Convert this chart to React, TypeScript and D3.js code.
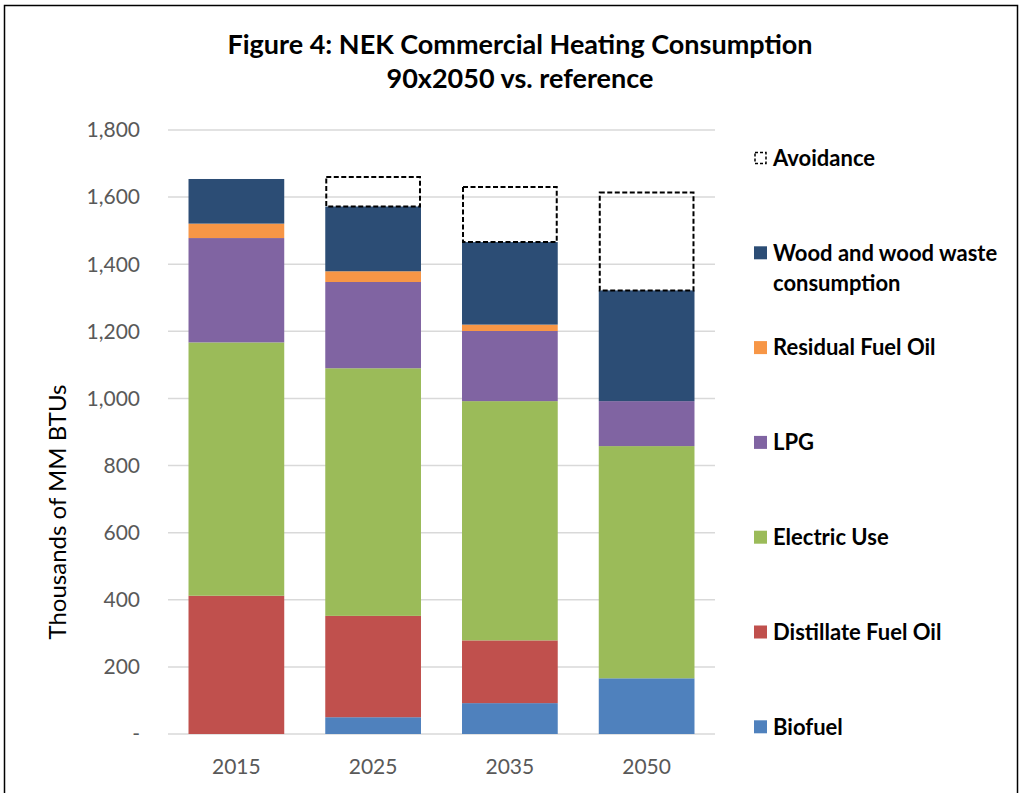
import React, { useEffect, useRef } from "react";
import * as d3 from "d3";

// chart values (thousands of MM BTUs)
const years = ["2015", "2025", "2035", "2050"];
const biofuel = [0, 50, 92, 166];
const distillate = [412, 302, 187, 0];
const electric = [755, 738, 713, 692];
const lpg = [311, 257, 209, 134];
const residual = [43, 32, 19, 0];
const wood = [133, 193, 246, 330];
const avoidance = [0, 88, 164, 292];

const seriesNames = [
  "Biofuel",
  "Distillate Fuel Oil",
  "Electric Use",
  "LPG",
  "Residual Fuel Oil",
  "Wood and wood waste consumption",
];
const seriesColors = ["#4F81BD", "#C0504D", "#9BBB59", "#8064A2", "#F79646", "#2C4D75"];
const yTicks = [0, 200, 400, 600, 800, 1000, 1200, 1400, 1600, 1800];

const titleLines = ["Figure 4: NEK Commercial Heating Consumption", "90x2050 vs. reference"];

export default function App() {
  const ref = useRef<SVGSVGElement | null>(null);

  useEffect(() => {
    const svg = d3.select(ref.current);
    svg.selectAll("*").remove();

    const font = "Lato, 'Open Sans', sans-serif";
    const margin = { top: 130, left: 168, right: 307, bottom: 59 };
    const W = 1022;
    const H = 793;

    // frame
    svg
      .append("rect")
      .attr("x", 4.5)
      .attr("y", 5.5)
      .attr("width", 1013)
      .attr("height", 800)
      .attr("fill", "#fff")
      .attr("stroke", "#000")
      .attr("stroke-width", 1.5);

    // title
    svg
      .selectAll("text.title")
      .data(titleLines)
      .enter()
      .append("text")
      .attr("class", "title")
      .attr("x", 520)
      .attr("y", (d, i) => 54 + i * 34)
      .attr("text-anchor", "middle")
      .style("font-family", font)
      .style("font-weight", "bold")
      .style("font-size", "27px")
      .style("fill", "#000")
      .text((d) => d);

    const x = d3
      .scaleBand()
      .domain(years)
      .range([margin.left, W - margin.right])
      .paddingInner(0.3)
      .paddingOuter(0.15);
    const y = d3.scaleLinear().domain([0, 1800]).range([H - margin.bottom, margin.top]);

    // gridlines
    svg
      .append("g")
      .selectAll("line")
      .data(yTicks)
      .enter()
      .append("line")
      .attr("x1", margin.left)
      .attr("x2", W - margin.right)
      .attr("y1", (d) => y(d))
      .attr("y2", (d) => y(d))
      .attr("stroke", "#D9D9D9")
      .attr("stroke-width", 1.5);

    // y tick labels
    const fmt = d3.format(",");
    svg
      .append("g")
      .selectAll("text")
      .data(yTicks)
      .enter()
      .append("text")
      .attr("x", 140)
      .attr("y", (d) => y(d))
      .attr("dy", "0.35em")
      .attr("text-anchor", "end")
      .style("font-family", font)
      .style("font-size", "21px")
      .style("fill", "#595959")
      .text((d) => (d === 0 ? "-" : fmt(d)));

    // x tick labels
    svg
      .append("g")
      .selectAll("text")
      .data(years)
      .enter()
      .append("text")
      .attr("x", (d) => x(d)! + x.bandwidth() / 2)
      .attr("y", 774)
      .attr("text-anchor", "middle")
      .style("font-family", font)
      .style("font-size", "21px")
      .style("fill", "#595959")
      .text((d) => d);

    // axis title
    svg
      .append("text")
      .attr("transform", "translate(66,512) rotate(-90)")
      .attr("text-anchor", "middle")
      .style("font-family", font)
      .style("font-size", "24px")
      .style("fill", "#000")
      .text("Thousands of MM BTUs");

    // stacked bars
    const table = years.map((yr, i) => ({
      year: yr,
      s0: biofuel[i],
      s1: distillate[i],
      s2: electric[i],
      s3: lpg[i],
      s4: residual[i],
      s5: wood[i],
    }));
    const keys = ["s0", "s1", "s2", "s3", "s4", "s5"];
    const stacked = d3.stack<any>().keys(keys)(table);

    svg
      .append("g")
      .selectAll("g")
      .data(stacked)
      .enter()
      .append("g")
      .attr("fill", (d, i) => seriesColors[i])
      .selectAll("rect")
      .data((d) => d)
      .enter()
      .append("rect")
      .attr("x", (d) => x(d.data.year)!)
      .attr("width", x.bandwidth())
      .attr("y", (d) => y(d[1]))
      .attr("height", (d) => y(d[0]) - y(d[1]));

    // avoidance outlines on top of each stack
    const totals = table.map((d) => keys.reduce((s, k) => s + d[k], 0));
    svg
      .append("g")
      .selectAll("rect")
      .data(years.filter((d, i) => avoidance[i] > 0))
      .enter()
      .append("rect")
      .attr("x", (d) => x(d)! + 1)
      .attr("width", x.bandwidth() - 2)
      .attr("y", (d) => {
        const i = years.indexOf(d);
        return y(totals[i] + avoidance[i]);
      })
      .attr("height", (d) => {
        const i = years.indexOf(d);
        return y(totals[i]) - y(totals[i] + avoidance[i]);
      })
      .attr("fill", "none")
      .attr("stroke", "#000")
      .attr("stroke-width", 2)
      .attr("stroke-dasharray", "5,2.5");

    // legend
    const legendItems = [
      { name: "Avoidance", color: null as string | null },
      ...seriesNames.map((n, i) => ({ name: n, color: seriesColors[i] })).reverse(),
    ];
    const lg = svg.append("g");
    legendItems.forEach((item, i) => {
      const cy = 158 + i * 94.8;
      if (item.color) {
        lg.append("rect")
          .attr("x", 754)
          .attr("y", cy - 6.5)
          .attr("width", 13)
          .attr("height", 13)
          .attr("fill", item.color);
      } else {
        lg.append("rect")
          .attr("x", 755)
          .attr("y", cy - 5.5)
          .attr("width", 11)
          .attr("height", 11)
          .attr("fill", "none")
          .attr("stroke", "#000")
          .attr("stroke-width", 1.5)
          .attr("stroke-dasharray", "3,2");
      }
      const words = item.name === "Wood and wood waste consumption"
        ? ["Wood and wood waste", "consumption"]
        : [item.name];
      words.forEach((w, j) => {
        lg.append("text")
          .attr("x", 773)
          .attr("y", cy + j * 30)
          .attr("dy", "0.35em")
          .style("font-family", font)
          .style("font-weight", "bold")
          .style("font-size", "22px")
          .style("fill", "#000")
          .text(w);
      });
    });
  }, []);

  return (
    <svg
      ref={ref}
      width={1022}
      height={793}
      style={{ position: "absolute", left: 0, top: 0 }}
    />
  );
}
